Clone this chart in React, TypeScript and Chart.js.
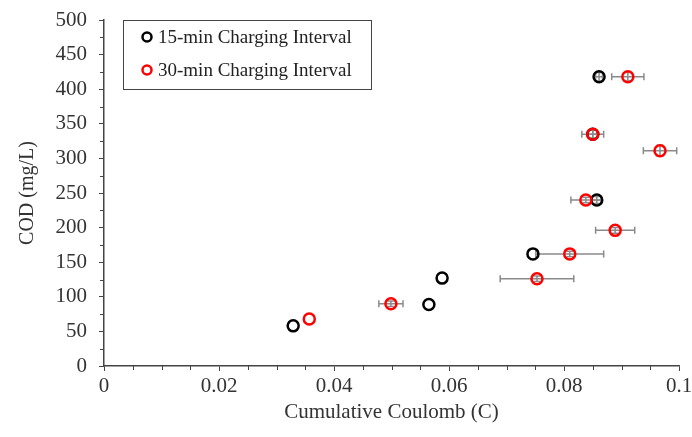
import React, { useEffect, useRef } from "react";
import { Chart, registerables } from "chart.js";

Chart.register(...registerables);

// 15-min Charging Interval
const series15X = [0.0329, 0.0565, 0.0588, 0.0746, 0.0857, 0.085, 0.0861];
const series15Y = [58, 89, 127, 162, 240, 335, 418];
const series15XErr = [0, 0, 0, 0, 0.0008, 0.0008, 0.0006];
const series15YErr = [0, 0, 0, 0, 5, 6, 6];

// 30-min Charging Interval
const series30X = [0.0357, 0.0499, 0.0753, 0.081, 0.0838, 0.0889, 0.0967, 0.085, 0.0911];
const series30Y = [68, 90, 126, 162, 240, 196, 311, 335, 418];
const series30XErr = [0, 0.0021, 0.0064, 0.0059, 0.0026, 0.0034, 0.0029, 0.0019, 0.0028];
const series30YErr = [0, 4, 4, 4, 4, 4, 8, 6, 6];

const legendLabels = ["15-min Charging Interval", "30-min Charging Interval"];
const seriesColors = ["#000000", "#ff0000"];
const xTitle = "Cumulative Coulomb (C)";
const yTitle = "COD (mg/L)";

const FONT = "'Liberation Serif', 'Times New Roman', serif";

const errorBarPlugin = {
  id: "errorBars",
  beforeDatasetsDraw(chart: any) {
    const ctx = chart.ctx;
    const xs = chart.scales.x;
    const ys = chart.scales.y;
    const groups = [
      [series15X, series15Y, series15XErr, series15YErr],
      [series30X, series30Y, series30XErr, series30YErr],
    ];
    ctx.save();
    ctx.strokeStyle = "#8a8a8a";
    ctx.lineWidth = 1.5;
    const cap = 3.5;
    groups.forEach(([gx, gy, ex, ey]) => {
      gx.forEach((xv: number, i: number) => {
        const px = xs.getPixelForValue(xv);
        const py = ys.getPixelForValue(gy[i]);
        if (ex[i] > 0) {
          const x1 = xs.getPixelForValue(xv - ex[i]);
          const x2 = xs.getPixelForValue(xv + ex[i]);
          ctx.beginPath();
          ctx.moveTo(x1, py);
          ctx.lineTo(x2, py);
          ctx.moveTo(x1, py - cap);
          ctx.lineTo(x1, py + cap);
          ctx.moveTo(x2, py - cap);
          ctx.lineTo(x2, py + cap);
          ctx.stroke();
        }
        if (ey[i] > 0) {
          const y1 = ys.getPixelForValue(gy[i] - ey[i]);
          const y2 = ys.getPixelForValue(gy[i] + ey[i]);
          ctx.beginPath();
          ctx.moveTo(px, y1);
          ctx.lineTo(px, y2);
          ctx.moveTo(px - cap, y1);
          ctx.lineTo(px + cap, y1);
          ctx.moveTo(px - cap, y2);
          ctx.lineTo(px + cap, y2);
          ctx.stroke();
        }
      });
    });
    ctx.restore();
  },
};

const minorTickPlugin = {
  id: "minorTicks",
  afterDraw(chart: any) {
    const ctx = chart.ctx;
    const xs = chart.scales.x;
    const ys = chart.scales.y;
    const area = chart.chartArea;
    ctx.save();
    ctx.strokeStyle = "#444";
    ctx.lineWidth = 1;
    for (let k = 1; k < 20; k++) {
      if (k % 4 === 0) continue;
      const v = k * 0.005;
      const px = Math.round(xs.getPixelForValue(v)) + 0.5;
      ctx.beginPath();
      ctx.moveTo(px, area.bottom);
      ctx.lineTo(px, area.bottom + 4);
      ctx.stroke();
    }
    for (let k = 1; k < 20; k++) {
      if (k % 2 === 0) continue;
      const v = k * 25;
      const py = Math.round(ys.getPixelForValue(v)) + 0.5;
      ctx.beginPath();
      ctx.moveTo(area.left, py);
      ctx.lineTo(area.left - 4, py);
      ctx.stroke();
    }
    ctx.restore();
  },
};

const legendPlugin = {
  id: "customLegend",
  afterDraw(chart: any) {
    const ctx = chart.ctx;
    const area = chart.chartArea;
    const bx = area.left + 19;
    const by = area.top;
    const bw = 248;
    const bh = 69;
    ctx.save();
    ctx.fillStyle = "#fff";
    ctx.fillRect(bx, by, bw, bh);
    ctx.strokeStyle = "#444";
    ctx.lineWidth = 1;
    ctx.strokeRect(bx + 0.5, by + 0.5, bw, bh);
    ctx.font = `19px ${FONT}`;
    ctx.textBaseline = "middle";
    legendLabels.forEach((label, i) => {
      const cy = by + 17 + i * 33;
      ctx.beginPath();
      ctx.arc(bx + 24, cy, 4.5, 0, Math.PI * 2);
      ctx.strokeStyle = seriesColors[i];
      ctx.lineWidth = 2.5;
      ctx.stroke();
      ctx.fillStyle = "#222";
      ctx.fillText(label, bx + 35, cy + 1);
    });
    ctx.restore();
  },
};

export default function App() {
  const ref = useRef<HTMLCanvasElement>(null);
  useEffect(() => {
    const canvas = ref.current;
    if (!canvas) return;
    const chart = new Chart(canvas, {
      type: "scatter",
      data: {
        datasets: [
          {
            label: legendLabels[0],
            data: series15X.map((x, i) => ({ x, y: series15Y[i] })),
            borderColor: seriesColors[0],
            backgroundColor: "rgba(0,0,0,0)",
            pointRadius: 5.5,
            pointBorderWidth: 2.5,
            order: 2,
          },
          {
            label: legendLabels[1],
            data: series30X.map((x, i) => ({ x, y: series30Y[i] })),
            borderColor: seriesColors[1],
            backgroundColor: "rgba(0,0,0,0)",
            pointRadius: 5.5,
            pointBorderWidth: 2.5,
            order: 1,
          },
        ],
      },
      plugins: [errorBarPlugin, minorTickPlugin, legendPlugin],
      options: {
        responsive: false,
        animation: false,
        layout: { padding: { top: 20, right: 13, left: 0, bottom: 0 } },
        plugins: {
          legend: { display: false },
          tooltip: { enabled: false },
        },
        scales: {
          x: {
            type: "linear",
            min: 0,
            max: 0.1,
            afterFit: (s: any) => {
              s.height = 71;
              s.paddingLeft = 0;
              s.paddingRight = 0;
            },
            ticks: {
              stepSize: 0.02,
              color: "#333",
              font: { family: FONT, size: 21 },
              padding: 3,
              maxRotation: 0,
              autoSkip: false,
              callback: (v: any) => (Math.abs(v) < 1e-9 ? "0" : String(Math.round(v * 100) / 100)),
            },
            grid: {
              drawOnChartArea: false,
              tickLength: 5,
              color: "#444",
            },
            border: { color: "#444", width: 1.5 },
            title: {
              display: true,
              text: xTitle,
              color: "#333",
              font: { family: FONT, size: 21 },
              padding: { bottom: 12, top: 0 },
            },
          },
          y: {
            type: "linear",
            min: 0,
            max: 500,
            afterFit: (s: any) => {
              s.width = 104;
              s.paddingTop = 0;
              s.paddingBottom = 0;
            },
            ticks: {
              stepSize: 50,
              color: "#333",
              font: { family: FONT, size: 21 },
              padding: 12,
              autoSkip: false,
            },
            grid: {
              drawOnChartArea: false,
              tickLength: 5,
              color: "#444",
            },
            border: { color: "#444", width: 1.5 },
            title: {
              display: true,
              text: yTitle,
              color: "#333",
              font: { family: FONT, size: 20 },
              padding: { top: 16, bottom: 0 },
            },
          },
        },
      },
    });
    return () => chart.destroy();
  }, []);
  return (
    <div style={{ position: "absolute", left: 0, top: 0, width: 692, height: 437, background: "#fff" }}>
      <canvas ref={ref} width={692} height={437} style={{ display: "block" }} />
    </div>
  );
}
